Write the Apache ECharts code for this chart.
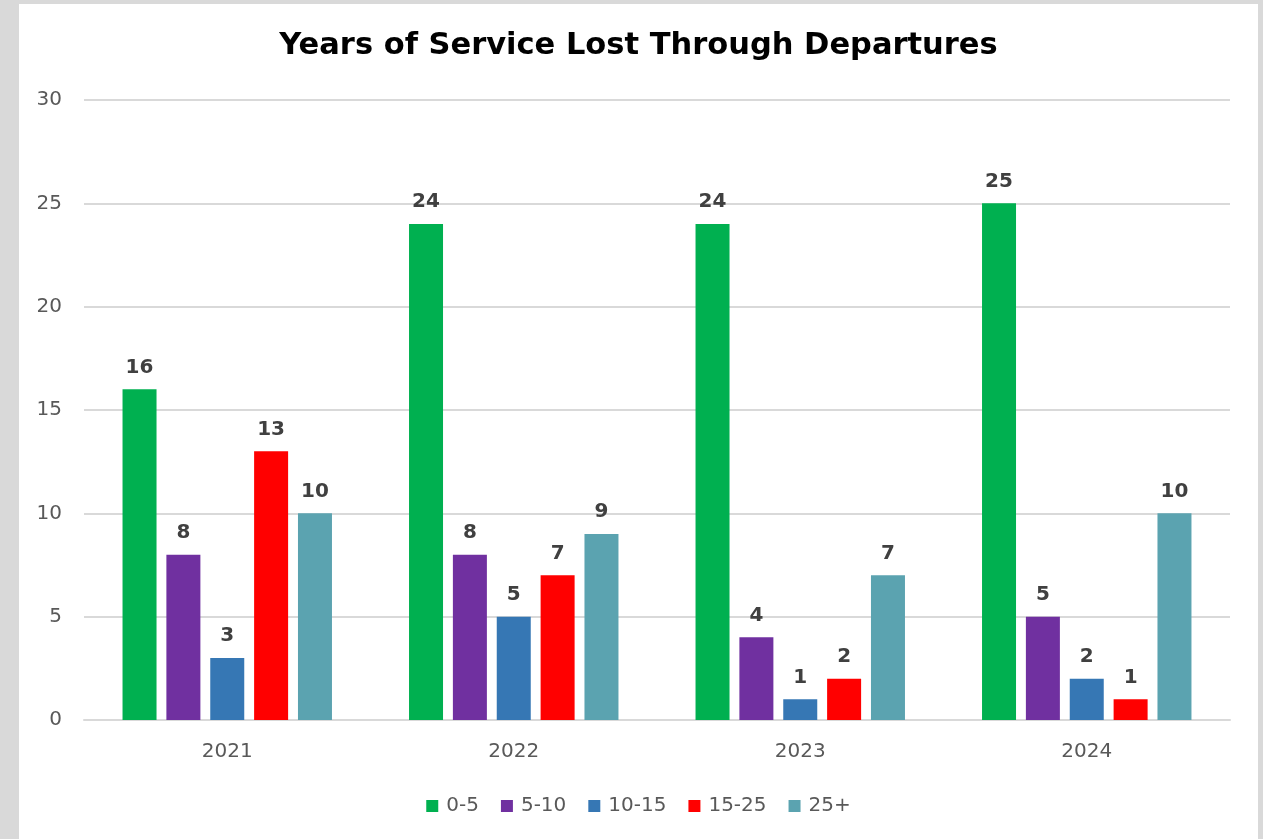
<!DOCTYPE html>
<html>
<head>
<meta charset="utf-8">
<title>Years of Service Lost Through Departures</title>
<script src="https://cdn.jsdelivr.net/npm/echarts@6/dist/echarts.min.js"></script>
<style>
  html, body { margin: 0; padding: 0; background: #d9d9d9; }
  #chart { position: absolute; left: 19px; top: 4px; width: 1239px; height: 835px; background: #ffffff; }
</style>
</head>
<body>
<div id="chart"></div>
<script>
// chart data
const years = ['2021', '2022', '2023', '2024'];
const bands = ['0-5', '5-10', '10-15', '15-25', '25+'];
const band0to5 = [16, 24, 24, 25];
const band5to10 = [8, 8, 4, 5];
const band10to15 = [3, 5, 1, 2];
const band15to25 = [13, 7, 2, 1];
const band25plus = [10, 9, 7, 10];
const yTicks = [0, 5, 10, 15, 20, 25, 30];

const bandValues = [band0to5, band5to10, band10to15, band15to25, band25plus];
const bandColors = ['#00b050', '#7030a0', '#3677b4', '#ff0000', '#5ba3b0'];

const fontName = '"DejaVu Sans", sans-serif';

const chart = echarts.init(document.getElementById('chart'));

const series = bands.map(function (name, i) {
  return {
    name: name,
    type: 'bar',
    data: bandValues[i],
    barWidth: 34,
    barGap: '29%',
    itemStyle: { color: bandColors[i] },
    label: {
      show: true,
      position: 'top',
      distance: 12,
      color: '#404040',
      fontWeight: 'bold',
      fontSize: 20,
      fontFamily: fontName
    }
  };
});

chart.setOption({
  animation: false,
  title: {
    text: 'Years of Service Lost Through Departures',
    left: 'center',
    top: 22,
    textStyle: {
      color: '#000000',
      fontWeight: 'bold',
      fontSize: 30.5,
      fontFamily: fontName
    }
  },
  legend: {
    data: bands,
    bottom: 18,
    left: 'center',
    icon: 'rect',
    itemWidth: 12,
    itemHeight: 12,
    itemGap: 22,
    textStyle: { color: '#595959', fontSize: 20, fontFamily: fontName, padding: [0, 0, 0, 3] }
  },
  grid: {
    left: 65,
    right: 28,
    top: 96,
    bottom: 119,
    containLabel: false
  },
  xAxis: {
    type: 'category',
    data: years,
    axisLine: { lineStyle: { color: '#d9d9d9', width: 2 } },
    axisTick: { show: false },
    axisLabel: { color: '#595959', fontSize: 20, margin: 22, fontFamily: fontName }
  },
  yAxis: {
    type: 'value',
    min: yTicks[0],
    max: yTicks[yTicks.length - 1],
    interval: 5,
    axisLine: { show: false },
    axisTick: { show: false },
    axisLabel: { color: '#595959', fontSize: 20, margin: 22, fontFamily: fontName },
    splitLine: { lineStyle: { color: '#d9d9d9', width: 2 } }
  },
  series: series
});
</script>
</body>
</html>
